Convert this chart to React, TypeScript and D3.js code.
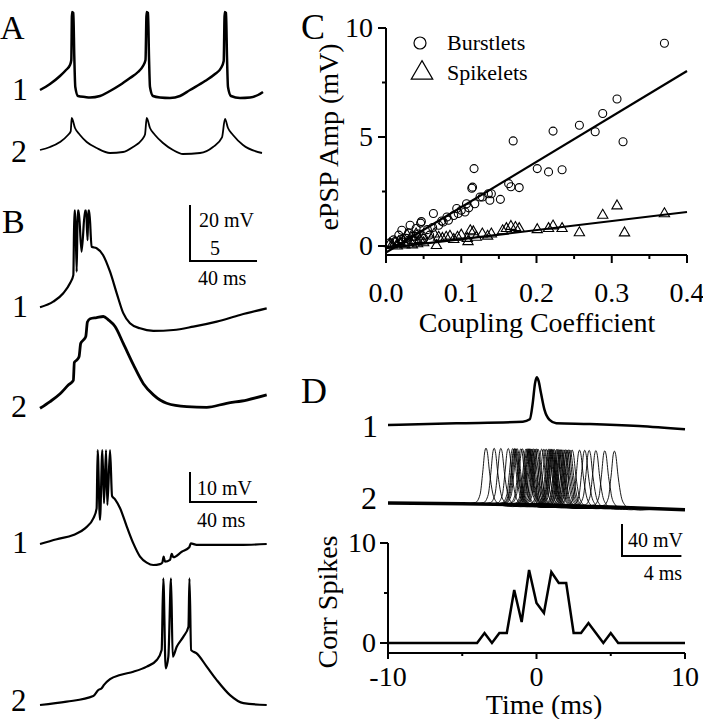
import React from "react";
import * as d3 from "d3";

const FONT = "'Liberation Serif', 'Times New Roman', Times, serif";

// ---------- Panel A (t in ms, v in mV) ----------
const a1Trace: [number, number][] = [
  [0, -53], [10, -47], [20, -39], [26, -33], [30, -28], [31.3, -23], [32, 25], [33.3, 24], [34.3, -20], [35.3, -50], [38, -59],
  [45, -60], [50, -60.5], [60, -59], [70, -54], [80, -48], [90, -41], [98, -35], [103, -29], [105.5, -23], [106.6, 25], [108, 24],
  [109, -20], [110, -50], [113, -59], [120, -60.5], [130, -61], [140, -59], [150, -53], [165, -44], [175, -37], [181, -31],
  [183.7, -24], [184.7, 25], [186, 24], [187, -20], [188, -50], [191, -59], [200, -61], [210, -60.5], [218, -58], [223, -55],
];
const a2Trace: [number, number][] = [
  [0, 0.75], [10, 1.5], [20, 2.75], [28, 4.5], [30.7, 5.4], [31.7, 8.75], [35, 6.25], [40, 4.5], [46.7, 2.75], [56.7, 1.25],
  [70, 0], [83, 0.25], [93, 1.5], [101.7, 3.25], [105, 4.6], [106.7, 8.75], [110, 6.25], [115, 4.5], [123, 2.5], [133, 0.75],
  [143, -0.25], [160, 0], [173, 1.5], [182, 3.9], [185, 8.5], [188, 6.25], [193, 4.5], [203, 2], [222, 0],
];

// ---------- Panel B (t in ms, v in mV relative to start) ----------
const b1Trace: [number, number][] = [
  [0, 0], [7.9, 2.0], [13.9, 5.0], [17.9, 8.6], [19.9, 11.5], [20.5, 34.5], [21.0, 34.5], [21.9, 12.7], [22.5, 34.5], [23.1, 34.5],
  [24.8, 19.9], [26.9, 34.5], [27.5, 34.5], [28.4, 24.0], [28.8, 34.5], [29.4, 34.5], [30.8, 21.6], [33.8, 21.1], [37.6, 18.7],
  [41.8, 12.7], [45.8, 5.0], [49.7, -2.1], [53.7, -5.7], [59.7, -7.5], [67.6, -8.4], [79.6, -8.1], [91.5, -6.9], [105.5, -5.1],
  [119.4, -2.75], [135.3, -0.4],
];
const b2Trace: [number, number][] = [
  [0, 0], [6, 0.6], [12, 1.3], [16.9, 2.08], [19.9, 2.5], [20.5, 4.1], [21.9, 4.3], [23.3, 4.6], [24.3, 5.8], [25.9, 6.1],
  [27.3, 6.4], [28.3, 7.7], [29.9, 8.0], [33.8, 8.1], [37.8, 8.2], [40.8, 7.9], [44.8, 7.3], [49.7, 5.8], [55.7, 3.9],
  [61.7, 2.2], [67.7, 1.2], [75.6, 0.45], [87.6, 0.15], [99.5, 0.09], [111.4, 0.45], [123.4, 0.74], [135.3, 1.2],
];
const b3Trace: [number, number][] = [
  [0, 0], [10, 1.6], [19.9, 3], [26.9, 5.2], [31.9, 8.6], [33.8, 11.9], [34.4, 31.3], [35.8, 8], [37.2, 31.3], [38.2, 13.6],
  [39.4, 31.3], [40.2, 13], [41.8, 31.3], [43.0, 16], [44.8, 14.9], [47.8, 11.9], [51.8, 5.8], [55.7, 0.2], [59.7, -4.2],
  [63.7, -6.2], [67.6, -7], [71.6, -6.7], [73, -6.2], [73.8, -4.2], [74.6, -5.9], [77.6, -5.3], [78.6, -3.3], [79.6, -4.4],
  [84.6, -2.6], [89.1, -1.1], [90, 0.2], [93.5, -0.3], [105.5, -0.3], [119.4, -0.3], [135.3, 0],
];
const b4Trace: [number, number][] = [
  [0, 0], [15.9, 1.1], [31.8, 3], [34.8, 5], [36.8, 5.6], [38.2, 6.7], [41.8, 8.6], [47.8, 10], [55.7, 11.1], [63.7, 12.8],
  [69.7, 15], [72.6, 18.3], [73.6, 42.2], [75, 12.2], [76.6, 16.1], [78.2, 42.2], [79.2, 16.1], [81.6, 19.4], [85.6, 22.8],
  [88.6, 26.1], [89.2, 42.2], [90.2, 18.3], [93.5, 17.2], [99.5, 12.8], [105.5, 8.3], [113.4, 3.3], [121.4, 0.6], [135.3, 0],
];

// ---------- Panel C ----------
const burstlets: [number, number][] = [
  [0.370, 9.3], [0.307, 6.74], [0.288, 6.08], [0.278, 5.24], [0.257, 5.54], [0.315, 4.78], [0.222, 5.27], [0.169, 4.82],
  [0.201, 3.55], [0.216, 3.40], [0.234, 3.50], [0.117, 3.55], [0.114, 2.65], [0.115, 2.70], [0.163, 2.86], [0.166, 2.72],
  [0.177, 2.68], [0.152, 2.14], [0.140, 2.40], [0.136, 2.40], [0.138, 2.10], [0.128, 2.25], [0.125, 2.25], [0.118, 1.94],
  [0.110, 1.75], [0.105, 1.56], [0.100, 1.64], [0.096, 1.49], [0.094, 1.72], [0.090, 1.40], [0.083, 1.18], [0.081, 1.33],
  [0.076, 1.10], [0.074, 1.15], [0.070, 0.95], [0.063, 1.49], [0.062, 0.85], [0.055, 0.75], [0.047, 1.12], [0.046, 1.05],
  [0.043, 0.55], [0.040, 0.80], [0.036, 0.45], [0.032, 0.95], [0.030, 0.60], [0.027, 0.35], [0.021, 0.72], [0.020, 0.30],
  [0.017, 0.50], [0.012, 0.20], [0.010, 0.28], [0.005, 0.15], [0.050, 0.35], [0.058, 0.50], [0.107, 1.94],
];
const spikelets: [number, number][] = [
  [0.370, 1.48], [0.307, 1.84], [0.288, 1.41], [0.317, 0.60], [0.257, 0.61], [0.234, 0.80], [0.222, 0.92], [0.216, 0.80],
  [0.201, 0.75], [0.177, 0.80], [0.172, 0.85], [0.166, 0.90], [0.160, 0.80], [0.155, 0.70], [0.140, 0.55], [0.135, 0.45],
  [0.128, 0.55], [0.120, 0.40], [0.116, 0.65], [0.112, 0.70], [0.108, 0.35], [0.100, 0.50], [0.095, 0.40], [0.090, 0.30],
  [0.085, 0.45], [0.080, 0.40], [0.075, 0.35], [0.070, 0.40], [0.067, 0.02], [0.064, 0.55], [0.060, 0.30], [0.050, 0.15],
  [0.048, 0.45], [0.045, 0.30], [0.042, 0.10], [0.040, 0.55], [0.037, 0.25], [0.035, 0.05], [0.033, 0.40], [0.030, 0.15],
  [0.028, 0.50], [0.025, 0.05], [0.022, 0.30], [0.020, 0.10], [0.017, 0.20], [0.015, 0.00], [0.012, 0.15], [0.008, 0.05],
  [0.005, 0.10], [0.109, 0.20],
];
const burstFit: [number, number][] = [[0, -0.3], [0.4, 8.03]];
const spikeFit: [number, number][] = [[0, -0.1], [0.4, 1.56]];
const cXTicks = [0, 0.1, 0.2, 0.3, 0.4];
const cXTickLabels = ["0.0", "0.1", "0.2", "0.3", "0.4"];
const cXMinor = [0.05, 0.15, 0.25, 0.35];
const cYTicks = [0, 5, 10];
const cYMinor = [2.5, 7.5];

// ---------- Panel D ----------
const d1Trace: [number, number][] = [
  [-10, 0], [-5.4, 2.1], [-0.92, 4.1], [-0.45, 7.1], [-0.25, 28], [-0.1, 52], [0.02, 59.6], [0.14, 55], [0.3, 40],
  [0.54, 18.8], [0.88, 6.3], [1.33, 2.1], [3.6, 1.25], [6.9, -1.25], [10, -5.4],
];
const d2Baseline: [number, number][] = [[-10, 0], [-5, -1], [0, -2.5], [5, -5], [10, -8.5]];
const d2SpikeShape: [number, number][] = [
  [-1.4, 0], [-0.7, 2], [-0.4, 12], [-0.22, 40], [-0.08, 66], [0, 70], [0.08, 66], [0.25, 38], [0.45, 14], [0.7, 3],
  [1.0, -1], [1.8, -2.5], [3, 0],
];
const d2SpikeTimes = [
  -3.4, -2.85, -2.4, -1.9, -1.6, -1.5, -1.45, -1.38, -1.3, -1.05, -0.95, -0.7, -0.62, -0.55, -0.5, -0.45, -0.38, -0.3,
  -0.2, -0.1, 0.0, 0.1, 0.35, 0.5, 0.65, 0.8, 0.88, 0.95, 1.0, 1.05, 1.12, 1.2, 1.35, 1.42, 1.5, 1.58, 1.65, 1.72, 1.85,
  1.95, 2.05, 2.15, 2.25, 2.4, 2.9, 3.25, 3.55, 4.0, 4.6, 5.25,
];
const histCounts = [
  0, 0, 0, 0, 0, 0, 0, 0, 0, 0, 0, 0, 0, 1, 0, 1, 1, 5.3, 2.1, 7.3, 4, 3, 7.1, 6, 6, 1, 1, 2, 1, 0, 1, 0,
  0, 0, 0, 0, 0, 0, 0, 0, 0,
];
const histBinWidth = 0.5;
const dXTicks = [-10, 0, 10];
const dXMinor = [-5, 5];
const dYTicks = [0, 10];
const dYMinor = [5];

type P = [number, number];
const mkLine = (xs: (v: number) => number, ys: (v: number) => number, curve: any = d3.curveMonotoneX) =>
  d3.line<P>().x((d) => xs(d[0])).y((d) => ys(d[1])).curve(curve);

export default function App() {
  const xA = d3.scaleLinear().domain([0, 223]).range([40, 263]);
  const yA1 = d3.scaleLinear().domain([-60, 25]).range([97, 12]);
  const yA2 = d3.scaleLinear().domain([0, 8.75]).range([153, 118]);

  const xB = d3.scaleLinear().domain([0, 135.3]).range([40, 266.7]);
  const yB1 = d3.scaleLinear().domain([0, 34.5]).range([307.3, 210.7]);
  const yB2 = d3.scaleLinear().domain([0, 8.2]).range([408.3, 316.5]);
  const yB3 = d3.scaleLinear().domain([0, 31.3]).range([544, 450.1]);
  const yB4 = d3.scaleLinear().domain([0, 42.2]).range([705, 578.4]);

  const xC = d3.scaleLinear().domain([0, 0.4]).range([386, 687]);
  const yC = d3.scaleLinear().domain([0, 10]).range([246, 28]);
  const cAxisY = 255;

  const xD = d3.scaleLinear().domain([-10, 10]).range([388, 685]);
  const yD1 = d3.scaleLinear().domain([0, 59.6]).range([425, 377.3]);
  const yD2 = d3.scaleLinear().domain([0, 70]).range([503, 447]);
  const yH = d3.scaleLinear().domain([0, 10]).range([643, 543]);
  const dAxisY = 653;

  const baseFn = d3.scaleLinear().domain(d2Baseline.map((d) => d[0])).range(d2Baseline.map((d) => d[1]));
  const shapeFn = d3
    .scaleLinear()
    .domain(d2SpikeShape.map((d) => d[0]))
    .range(d2SpikeShape.map((d) => d[1]))
    .clamp(true);
  const d2Traces: P[][] = d2SpikeTimes.map((ts) => {
    const set = new Set<number>();
    d2Baseline.forEach((d) => set.add(d[0]));
    d2SpikeShape.forEach((d) => {
      const t = ts + d[0];
      if (t > -10 && t < 10) set.add(+t.toFixed(4));
    });
    const times = Array.from(set).sort((a, b) => a - b);
    return times.map((t) => [t, baseFn(t) + shapeFn(t - ts)] as P);
  });

  const histPts: P[] = histCounts.map((c, i) => [-10 + i * histBinWidth, c]);

  const black = "#000";
  const tri = (s: number) => d3.symbol().type(d3.symbolTriangle).size(s)() as string;

  const b40 = xB(40) - xB(0);
  const sbBx = 190;
  const sbB1Top = yB1(20) - yB1(0);
  const d4 = xD(4) - xD(0);
  const d40 = yD2(40) - yD2(0);

  return (
    <svg
      width={703}
      height={719}
      style={{ position: "absolute", left: 0, top: 0, background: "#fff" }}
      fontFamily={FONT}
      fill={black}
    >
      <rect x={0} y={0} width={703} height={719} fill="#fff" />
      {/* ---------------- Panel A ---------------- */}
      <text x={0} y={39} fontSize={34}>A</text>
      <text x={12} y={100} fontSize={32}>1</text>
      <text x={11} y={162} fontSize={32}>2</text>
      <path d={mkLine(xA, yA1)(a1Trace)!} fill="none" stroke={black} strokeWidth={2.5} strokeLinejoin="round" />
      <path d={mkLine(xA, yA2)(a2Trace)!} fill="none" stroke={black} strokeWidth={1.8} strokeLinejoin="round" />

      {/* ---------------- Panel B ---------------- */}
      <text x={2} y={233} fontSize={34}>B</text>
      <text x={12} y={317} fontSize={32}>1</text>
      <text x={11} y={417} fontSize={32}>2</text>
      <path d={mkLine(xB, yB1)(b1Trace)!} fill="none" stroke={black} strokeWidth={2.2} strokeLinejoin="round" />
      <path d={mkLine(xB, yB2)(b2Trace)!} fill="none" stroke={black} strokeWidth={2.8} strokeLinejoin="round" />
      <path d={`M${sbBx},${261 + sbB1Top}V261H${sbBx + b40}`} fill="none" stroke={black} strokeWidth={2} />
      <text x={199} y={227} fontSize={20}>20 mV</text>
      <text x={210} y={255} fontSize={20}>5</text>
      <text x={198} y={285} fontSize={20}>40 ms</text>

      <text x={12} y={553} fontSize={32}>1</text>
      <text x={11} y={711} fontSize={31}>2</text>
      <path d={mkLine(xB, yB3)(b3Trace)!} fill="none" stroke={black} strokeWidth={2.2} strokeLinejoin="round" />
      <path d={mkLine(xB, yB4)(b4Trace)!} fill="none" stroke={black} strokeWidth={2.2} strokeLinejoin="round" />
      <path d={`M${sbBx},${502 + (yB3(10) - yB3(0))}V502H${sbBx + b40}`} fill="none" stroke={black} strokeWidth={2} />
      <text x={197} y={495} fontSize={20}>10 mV</text>
      <text x={197} y={527} fontSize={20}>40 ms</text>

      {/* ---------------- Panel C ---------------- */}
      <text x={301} y={39} fontSize={36}>C</text>
      <line x1={xC(0)} x2={xC(0)} y1={yC(10)} y2={cAxisY} stroke={black} strokeWidth={2} />
      <line x1={xC(0) - 1} x2={xC(0.4)} y1={cAxisY} y2={cAxisY} stroke={black} strokeWidth={2} />
      {cYTicks.map((v) => (
        <g key={"cy" + v}>
          <line x1={xC(0) - 8} x2={xC(0)} y1={yC(v)} y2={yC(v)} stroke={black} strokeWidth={2} />
          <text x={373} y={yC(v) + 9} fontSize={28} textAnchor="end">{v}</text>
        </g>
      ))}
      {cYMinor.map((v) => (
        <line key={"cym" + v} x1={xC(0) - 4} x2={xC(0)} y1={yC(v)} y2={yC(v)} stroke={black} strokeWidth={2} />
      ))}
      {cXTicks.map((v, i) => (
        <g key={"cx" + v}>
          <line x1={xC(v)} x2={xC(v)} y1={cAxisY} y2={cAxisY + 8} stroke={black} strokeWidth={2} />
          <text x={xC(v)} y={302} fontSize={28} textAnchor="middle">{cXTickLabels[i]}</text>
        </g>
      ))}
      {cXMinor.map((v) => (
        <line key={"cxm" + v} x1={xC(v)} x2={xC(v)} y1={cAxisY} y2={cAxisY + 4} stroke={black} strokeWidth={2} />
      ))}
      <text x={537} y={332} fontSize={28} textAnchor="middle">Coupling Coefficient</text>
      <text transform="translate(338,137) rotate(-90)" fontSize={28} textAnchor="middle">ePSP Amp (mV)</text>

      <path d={mkLine(xC, yC, d3.curveLinear)(burstFit)!} fill="none" stroke={black} strokeWidth={2.2} />
      <path d={mkLine(xC, yC, d3.curveLinear)(spikeFit)!} fill="none" stroke={black} strokeWidth={2.2} />
      {burstlets.map((d, i) => (
        <circle key={"b" + i} cx={xC(d[0])} cy={yC(d[1])} r={4} fill="none" stroke={black} strokeWidth={1.1} />
      ))}
      {spikelets.map((d, i) => (
        <path
          key={"s" + i}
          d={tri(46)}
          transform={`translate(${xC(d[0])},${yC(d[1])})`}
          fill="none"
          stroke={black}
          strokeWidth={1.1}
        />
      ))}
      <circle cx={420} cy={43} r={6} fill="none" stroke={black} strokeWidth={1.2} />
      <text x={447} y={50} fontSize={22}>Burstlets</text>
      <path d={tri(200)} transform="translate(422,73)" fill="none" stroke={black} strokeWidth={1.2} />
      <text x={447} y={80} fontSize={22}>Spikelets</text>

      {/* ---------------- Panel D ---------------- */}
      <text x={301} y={403} fontSize={36}>D</text>
      <text x={362} y={437} fontSize={32}>1</text>
      <text x={361} y={509} fontSize={32}>2</text>
      <path d={mkLine(xD, yD1)(d1Trace)!} fill="none" stroke={black} strokeWidth={2.5} strokeLinejoin="round" />
      {d2Traces.map((tr, i) => (
        <path key={"d2" + i} d={mkLine(xD, yD2)(tr)!} fill="none" stroke={black} strokeWidth={0.9} />
      ))}
      <path d={mkLine(xD, yD2)(d2Baseline)!} fill="none" stroke={black} strokeWidth={3.5} />

      <path d={`M622,${556 + d40}V556H${622 + d4}`} fill="none" stroke={black} strokeWidth={2} />
      <text x={628} y={547} fontSize={20}>40 mV</text>
      <text x={682} y={580} fontSize={20} textAnchor="end">4 ms</text>

      <line x1={xD(-10)} x2={xD(-10)} y1={yH(10)} y2={dAxisY} stroke={black} strokeWidth={2} />
      <line x1={xD(-10) - 1} x2={xD(10)} y1={dAxisY} y2={dAxisY} stroke={black} strokeWidth={2} />
      {dYTicks.map((v) => (
        <g key={"dy" + v}>
          <line x1={xD(-10) - 8} x2={xD(-10)} y1={yH(v)} y2={yH(v)} stroke={black} strokeWidth={2} />
          <text x={376} y={yH(v) + 9} fontSize={28} textAnchor="end">{v}</text>
        </g>
      ))}
      {dYMinor.map((v) => (
        <line key={"dym" + v} x1={xD(-10) - 4} x2={xD(-10)} y1={yH(v)} y2={yH(v)} stroke={black} strokeWidth={2} />
      ))}
      {dXTicks.map((v) => (
        <g key={"dx" + v}>
          <line x1={xD(v)} x2={xD(v)} y1={dAxisY} y2={dAxisY + 6} stroke={black} strokeWidth={2} />
          <text x={xD(v)} y={686} fontSize={28} textAnchor="middle">{v}</text>
        </g>
      ))}
      {dXMinor.map((v) => (
        <line key={"dxm" + v} x1={xD(v)} x2={xD(v)} y1={dAxisY} y2={dAxisY + 3} stroke={black} strokeWidth={2} />
      ))}
      <path d={mkLine(xD, yH, d3.curveLinear)(histPts)!} fill="none" stroke={black} strokeWidth={2.5} strokeLinejoin="miter" />
      <text x={544} y={714} fontSize={28} textAnchor="middle">Time (ms)</text>
      <text transform="translate(337,602) rotate(-90)" fontSize={28} textAnchor="middle">Corr Spikes</text>
    </svg>
  );
}
